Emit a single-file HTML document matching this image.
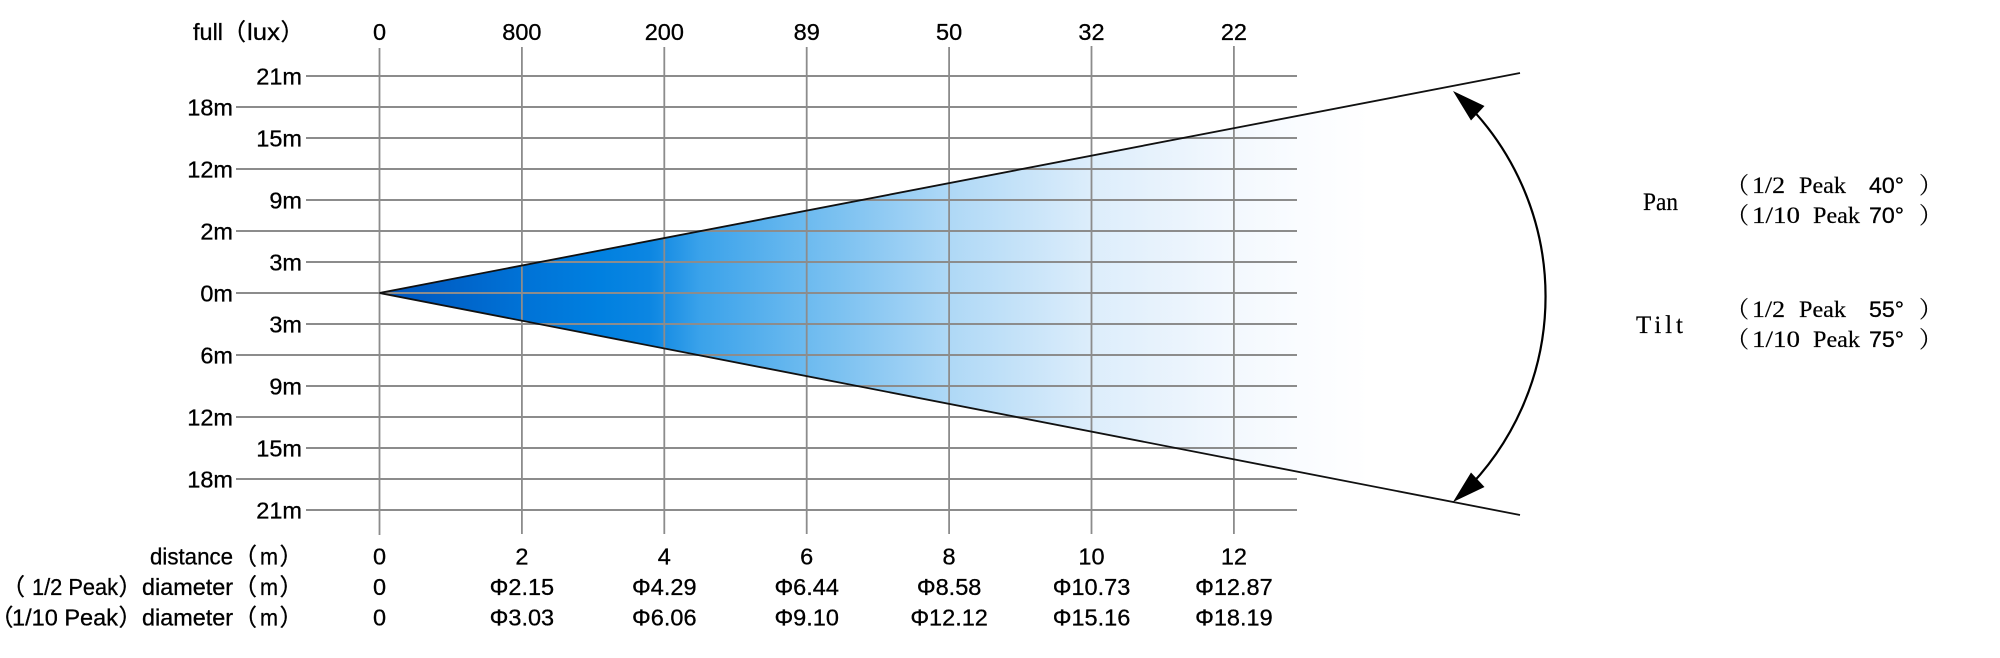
<!DOCTYPE html>
<html><head><meta charset="utf-8"><style>
html,body{margin:0;padding:0;background:#fff;}
svg{display:block;}
.s{font-family:"Liberation Sans","Noto Sans CJK SC",sans-serif;font-size:23.5px;fill:#000;stroke:#000;stroke-width:0.3px;}
.r{font-family:"Liberation Serif","Noto Serif CJK SC",serif;font-size:23px;fill:#000;stroke:#000;stroke-width:0.2px;}
.p{font-family:"Liberation Serif",serif;font-size:25px;fill:#000;stroke:#000;stroke-width:0.2px;}
.n{font-family:"Liberation Sans",sans-serif;font-size:22px;fill:#000;stroke:#000;stroke-width:0.3px;}
</style></head><body>
<svg width="2000" height="658" viewBox="0 0 2000 658" xmlns="http://www.w3.org/2000/svg">
<defs>
<linearGradient id="g" gradientUnits="userSpaceOnUse" x1="379" y1="0" x2="1370" y2="0">
<stop offset="0" stop-color="#0054bd"/>
<stop offset="0.07" stop-color="#0062c8"/>
<stop offset="0.143" stop-color="#0072d6"/>
<stop offset="0.223" stop-color="#0080e0"/>
<stop offset="0.273" stop-color="#0c86e2"/>
<stop offset="0.324" stop-color="#3aa2ea"/>
<stop offset="0.43" stop-color="#6cbaef"/>
<stop offset="0.574" stop-color="#aed8f6"/>
<stop offset="0.717" stop-color="#dcedfb"/>
<stop offset="0.86" stop-color="#f3f8fe"/>
<stop offset="0.93" stop-color="#fafcff"/>
<stop offset="1" stop-color="#ffffff"/>
</linearGradient>
</defs>
<rect width="2000" height="658" fill="#fff"/>
<polygon points="379.5,293 1520,73 1520,515" fill="url(#g)"/>
<g stroke="#8c8c8c" stroke-width="2" fill="none">
<line x1="306" y1="76" x2="1297" y2="76"/>
<line x1="236" y1="107" x2="1297" y2="107"/>
<line x1="306" y1="138" x2="1297" y2="138"/>
<line x1="236" y1="169" x2="1297" y2="169"/>
<line x1="306" y1="200" x2="1297" y2="200"/>
<line x1="236" y1="231" x2="1297" y2="231"/>
<line x1="306" y1="262" x2="1297" y2="262"/>
<line x1="236" y1="293" x2="1297" y2="293"/>
<line x1="306" y1="324" x2="1297" y2="324"/>
<line x1="236" y1="355" x2="1297" y2="355"/>
<line x1="306" y1="386" x2="1297" y2="386"/>
<line x1="236" y1="417" x2="1297" y2="417"/>
<line x1="306" y1="448" x2="1297" y2="448"/>
<line x1="236" y1="479" x2="1297" y2="479"/>
<line x1="306" y1="510" x2="1297" y2="510"/>
</g>
<g stroke="#8c8c8c" stroke-width="1.8" fill="none">
<line x1="379.5" y1="48" x2="379.5" y2="535"/>
<line x1="521.9" y1="47" x2="521.9" y2="534"/>
<line x1="664.3" y1="47" x2="664.3" y2="534"/>
<line x1="806.7" y1="47" x2="806.7" y2="534"/>
<line x1="949.1" y1="47" x2="949.1" y2="534"/>
<line x1="1091.5" y1="46" x2="1091.5" y2="534"/>
<line x1="1233.9" y1="46" x2="1233.9" y2="534"/>
</g>
<g stroke="#111" stroke-width="1.8" fill="none">
<line x1="379.5" y1="293" x2="1520" y2="73"/>
<line x1="379.5" y1="293" x2="1520" y2="515"/>
</g>
<path d="M 1462 99 A 275.2 275.2 0 0 1 1462 494" stroke="#000" stroke-width="2.2" fill="none"/>
<polygon points="1453,91 1484.5,106 1471,120.5" fill="#000"/>
<polygon points="1453,502 1484.5,487 1471,472.5" fill="#000"/>

<g class="s" text-anchor="end">
<text x="302" y="84.5">21m</text>
<text x="233" y="115.5">18m</text>
<text x="302" y="146.5">15m</text>
<text x="233" y="177.5">12m</text>
<text x="302" y="208.5">9m</text>
<text x="233" y="239.5">2m</text>
<text x="302" y="270.5">3m</text>
<text x="233" y="301.5">0m</text>
<text x="302" y="332.5">3m</text>
<text x="233" y="363.5">6m</text>
<text x="302" y="394.5">9m</text>
<text x="233" y="425.5">12m</text>
<text x="302" y="456.5">15m</text>
<text x="233" y="487.5">18m</text>
<text x="302" y="518.5">21m</text>
</g>

<g class="s">
<text x="193" y="40" textLength="30" lengthAdjust="spacingAndGlyphs">full</text>
<text x="222.5" y="40">（</text>
<text x="247" y="40" textLength="33" lengthAdjust="spacingAndGlyphs">lux</text>
<text x="280.5" y="40">）</text>
</g>
<g class="s" text-anchor="middle">
<text x="379.5" y="40">0</text>
<text x="521.9" y="40">800</text>
<text x="664.3" y="40">200</text>
<text x="806.7" y="40">89</text>
<text x="949.1" y="40">50</text>
<text x="1091.5" y="40">32</text>
<text x="1233.9" y="40">22</text>
</g>

<g class="s">
<text x="150" y="564.5" textLength="83" lengthAdjust="spacingAndGlyphs">distance</text>
<text x="233.5" y="564.5">（</text>
<text x="260" y="564.5" textLength="18" lengthAdjust="spacingAndGlyphs">m</text>
<text x="279.5" y="564.5">）</text>

<text x="1.5" y="595">（</text>
<text x="32" y="595" textLength="86" lengthAdjust="spacingAndGlyphs">1/2 Peak</text>
<text x="118.5" y="595">）</text>
<text x="142" y="595" textLength="91" lengthAdjust="spacingAndGlyphs">diameter</text>
<text x="233.5" y="595">（</text>
<text x="260" y="595" textLength="18" lengthAdjust="spacingAndGlyphs">m</text>
<text x="279.5" y="595">）</text>

<text x="-10" y="625.5">（</text>
<text x="12" y="625.5" textLength="106" lengthAdjust="spacingAndGlyphs">1/10 Peak</text>
<text x="118.5" y="625.5">）</text>
<text x="142" y="625.5" textLength="91" lengthAdjust="spacingAndGlyphs">diameter</text>
<text x="233.5" y="625.5">（</text>
<text x="260" y="625.5" textLength="18" lengthAdjust="spacingAndGlyphs">m</text>
<text x="279.5" y="625.5">）</text>
</g>
<g class="s" text-anchor="middle">
<text x="379.5" y="564.5">0</text>
<text x="521.9" y="564.5">2</text>
<text x="664.3" y="564.5">4</text>
<text x="806.7" y="564.5">6</text>
<text x="949.1" y="564.5">8</text>
<text x="1091.5" y="564.5">10</text>
<text x="1233.9" y="564.5">12</text>

<text x="379.5" y="595">0</text>
<text x="521.9" y="595">Φ2.15</text>
<text x="664.3" y="595">Φ4.29</text>
<text x="806.7" y="595">Φ6.44</text>
<text x="949.1" y="595">Φ8.58</text>
<text x="1091.5" y="595">Φ10.73</text>
<text x="1233.9" y="595">Φ12.87</text>

<text x="379.5" y="625.5">0</text>
<text x="521.9" y="625.5">Φ3.03</text>
<text x="664.3" y="625.5">Φ6.06</text>
<text x="806.7" y="625.5">Φ9.10</text>
<text x="949.1" y="625.5">Φ12.12</text>
<text x="1091.5" y="625.5">Φ15.16</text>
<text x="1233.9" y="625.5">Φ18.19</text>
</g>

<g class="p">
<text x="1643" y="210" textLength="35" lengthAdjust="spacingAndGlyphs">Pan</text>
<text x="1636" y="333" textLength="47" lengthAdjust="spacing">Tilt</text>
</g>
<g class="r">
<text x="1726" y="193">（</text>
<text x="1752" y="193" textLength="33" lengthAdjust="spacingAndGlyphs">1/2</text>
<text x="1799" y="193" textLength="47" lengthAdjust="spacingAndGlyphs">Peak</text>
<text x="1919" y="193">）</text>

<text x="1726" y="223">（</text>
<text x="1752" y="223" textLength="48" lengthAdjust="spacingAndGlyphs">1/10</text>
<text x="1813" y="223" textLength="47" lengthAdjust="spacingAndGlyphs">Peak</text>
<text x="1919" y="223">）</text>

<text x="1726" y="317">（</text>
<text x="1752" y="317" textLength="33" lengthAdjust="spacingAndGlyphs">1/2</text>
<text x="1799" y="317" textLength="47" lengthAdjust="spacingAndGlyphs">Peak</text>
<text x="1919" y="317">）</text>

<text x="1726" y="347">（</text>
<text x="1752" y="347" textLength="48" lengthAdjust="spacingAndGlyphs">1/10</text>
<text x="1813" y="347" textLength="47" lengthAdjust="spacingAndGlyphs">Peak</text>
<text x="1919" y="347">）</text>
</g>
<g class="n">
<text x="1869" y="193" textLength="35" lengthAdjust="spacingAndGlyphs">40°</text>
<text x="1869" y="223" textLength="35" lengthAdjust="spacingAndGlyphs">70°</text>
<text x="1869" y="317" textLength="35" lengthAdjust="spacingAndGlyphs">55°</text>
<text x="1869" y="347" textLength="35" lengthAdjust="spacingAndGlyphs">75°</text>
</g>
</svg>
</body></html>
